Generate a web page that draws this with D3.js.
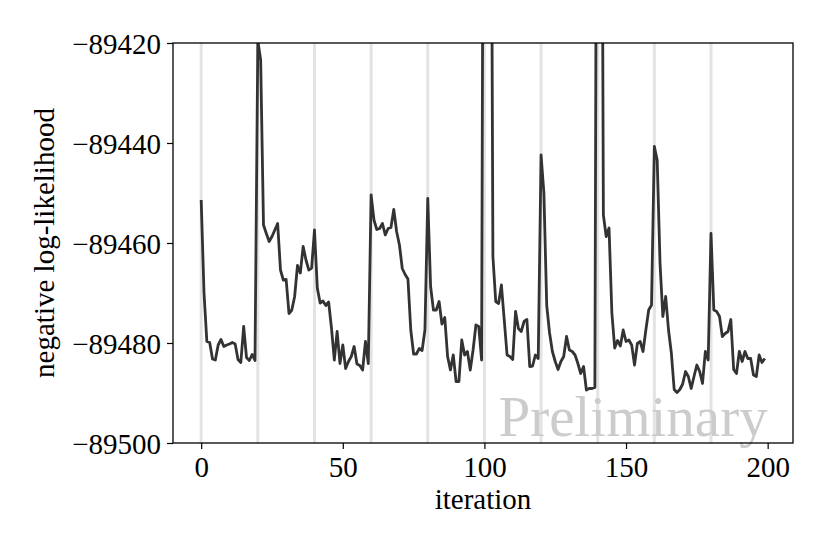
<!DOCTYPE html>
<html>
<head>
<meta charset="utf-8">
<script src="https://cdn.jsdelivr.net/npm/d3@7"></script>
<style>
  html, body { margin: 0; padding: 0; background: #fff; }
  svg { display: block; }
  text { font-family: "Liberation Serif", "DejaVu Serif", serif; }
</style>
</head>
<body>
<svg id="chart" width="830" height="554"></svg>
<script>
// ---- data ----
const iterations = d3.range(0, 200);
const nll = [
  -89451.4, -89470.0, -89479.7, -89479.9, -89483.2, -89483.4, -89480.4, -89479.3, -89480.7, -89480.4,
  -89480.2, -89479.9, -89480.2, -89483.3, -89483.9, -89476.7, -89482.9, -89483.5, -89482.3, -89483.5,
  -89419.5, -89423.4, -89456.4, -89458.1, -89459.7, -89458.7, -89457.4, -89456.1, -89465.4, -89467.4,
  -89467.3, -89474.1, -89473.4, -89470.7, -89464.5, -89466.0, -89460.7, -89463.4, -89465.4, -89465.0,
  -89457.4, -89469.0, -89472.0, -89471.6, -89472.5, -89471.8, -89477.0, -89483.4, -89477.7, -89484.1,
  -89480.4, -89485.1, -89483.7, -89482.7, -89480.7, -89484.2, -89484.5, -89485.4, -89479.7, -89484.1,
  -89450.4, -89455.4, -89457.3, -89457.1, -89456.1, -89458.4, -89457.1, -89456.9, -89453.3, -89457.7,
  -89460.4, -89465.1, -89466.3, -89467.2, -89477.4, -89482.2, -89482.2, -89481.1, -89481.5, -89477.4,
  -89451.1, -89468.7, -89473.4, -89473.4, -89471.7, -89476.2, -89474.9, -89482.7, -89485.4, -89482.4,
  -89487.7, -89487.7, -89479.4, -89482.4, -89481.7, -89485.4, -89481.4, -89476.4, -89476.7, -89483.4,
  -89300.0, -89280.0, -89320.0, -89462.7, -89471.7, -89472.1, -89468.4, -89475.4, -89482.4, -89482.7,
  -89483.3, -89473.7, -89477.1, -89477.7, -89475.7, -89475.3, -89484.7, -89484.6, -89482.4, -89483.1,
  -89442.4, -89450.0, -89472.5, -89478.0, -89481.7, -89483.7, -89485.3, -89483.7, -89482.7, -89478.7,
  -89481.4, -89481.7, -89482.4, -89484.1, -89486.1, -89484.7, -89489.4, -89489.1, -89489.1, -89488.9,
  -89300.0, -89300.0, -89454.4, -89458.7, -89457.0, -89474.0, -89481.0, -89479.5, -89480.6, -89477.4,
  -89479.7, -89479.4, -89480.4, -89484.4, -89480.1, -89479.7, -89481.7, -89477.4, -89473.4, -89472.4,
  -89440.7, -89443.4, -89464.0, -89474.7, -89470.7, -89477.4, -89482.0, -89489.3, -89489.9, -89489.3,
  -89488.2, -89485.7, -89486.7, -89489.1, -89486.7, -89484.4, -89485.7, -89488.1, -89481.7, -89483.4,
  -89458.1, -89473.4, -89473.7, -89474.7, -89478.7, -89478.1, -89477.7, -89475.3, -89485.3, -89486.1,
  -89481.7, -89483.7, -89481.7, -89483.1, -89483.1, -89486.4, -89486.7, -89482.4, -89483.9, -89483.1
];
const restartIters = [0, 20, 40, 60, 80, 100, 120, 140, 160, 180];
const xTicks = [0, 50, 100, 150, 200];
const yTicks = [-89500, -89480, -89460, -89440, -89420];
const xLabel = "iteration";
const yLabel = "negative log-likelihood";
const watermark = "Preliminary";

// ---- layout ----
const svg = d3.select("#chart");
const L = 173, R = 793, T = 43, B = 443;
const x = d3.scaleLinear().domain([-9.95, 208.95]).range([L, R]);
const y = d3.scaleLinear().domain([-89500, -89420]).range([B, T]);
const FS = 29;

svg.append("defs").append("clipPath").attr("id", "clip")
  .append("rect").attr("x", L).attr("y", T).attr("width", R - L).attr("height", B - T);

// restart lines
svg.append("g").selectAll("line").data(restartIters).join("line")
  .attr("x1", d => x(d)).attr("x2", d => x(d))
  .attr("y1", T).attr("y2", B)
  .attr("stroke", "#e3e3e3").attr("stroke-width", 3);

// watermark
svg.append("text")
  .attr("x", x(200)).attr("y", 436)
  .attr("text-anchor", "end")
  .attr("font-size", 57)
  .attr("fill", "#cccccc")
  .text(watermark);

// line
const line = d3.line().x((d, i) => x(iterations[i])).y(d => y(d));
svg.append("path").datum(nll)
  .attr("clip-path", "url(#clip)")
  .attr("d", line)
  .attr("fill", "none")
  .attr("stroke", "#333333")
  .attr("stroke-width", 2.8)
  .attr("stroke-linejoin", "round");

// axes
const fmt = d => (d < 0 ? "\u2212" + Math.abs(d) : String(d));
const xAxis = svg.append("g").attr("transform", `translate(0,${B})`)
  .call(d3.axisBottom(x).tickValues(xTicks).tickSize(6).tickPadding(7).tickFormat(fmt));
const yAxis = svg.append("g").attr("transform", `translate(${L},0)`)
  .call(d3.axisLeft(y).tickValues(yTicks).tickSize(6).tickPadding(6).tickFormat(fmt));
[xAxis, yAxis].forEach(g => {
  g.select(".domain").remove();
  g.selectAll(".tick line").attr("stroke", "#000").attr("stroke-width", 1.2);
  g.selectAll(".tick text").attr("font-size", FS).attr("fill", "#000")
    .attr("font-family", "'Liberation Serif', serif");
});
yAxis.selectAll(".tick text").attr("dy", "0.35em");

// frame
svg.append("rect").attr("x", L).attr("y", T).attr("width", R - L).attr("height", B - T)
  .attr("fill", "none").attr("stroke", "#000").attr("stroke-width", 1.3);

// labels
svg.append("text").attr("x", (L + R) / 2).attr("y", 509)
  .attr("text-anchor", "middle").attr("font-size", FS).text(xLabel);
svg.append("text")
  .attr("transform", `translate(54,${(T + B) / 2}) rotate(-90)`)
  .attr("text-anchor", "middle").attr("font-size", FS).text(yLabel);
</script>
</body>
</html>
